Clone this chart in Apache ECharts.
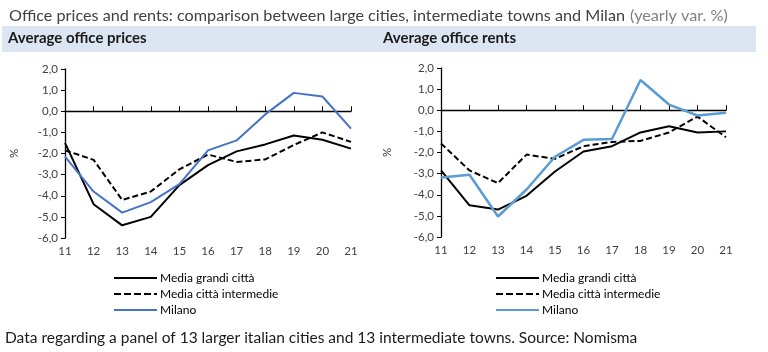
<!DOCTYPE html>
<html>
<head>
<meta charset="utf-8">
<script src="https://cdn.jsdelivr.net/npm/echarts@6/dist/echarts.min.js"></script>
<style>
  html, body { margin: 0; padding: 0; background: #fff; }
  #chart { width: 768px; height: 352px; }
</style>
</head>
<body>
<div id="chart"></div>
<script>
// anni (asse x)
const years = ['11', '12', '13', '14', '15', '16', '17', '18', '19', '20', '21']
const seriesNames = ['Media grandi città', 'Media città intermedie', 'Milano']

// prezzi uffici (var. % annua)
const pricesLarge = [-1.5, -4.4, -5.4, -5.0, -3.5, -2.55, -1.9, -1.57, -1.15, -1.35, -1.77]
const pricesInter = [-1.85, -2.3, -4.2, -3.8, -2.75, -2.05, -2.4, -2.28, -1.6, -1.0, -1.45]
const pricesMilano = [-2.15, -3.8, -4.8, -4.3, -3.45, -1.85, -1.38, -0.15, 0.87, 0.7, -0.82]

// canoni uffici (var. % annua)
const rentsLarge = [-2.85, -4.5, -4.7, -4.05, -2.9, -1.95, -1.7, -1.05, -0.76, -1.05, -1.0]
const rentsInter = [-1.57, -2.85, -3.45, -2.1, -2.3, -1.7, -1.5, -1.45, -1.05, -0.3, -1.28]
const rentsMilano = [-3.18, -3.05, -5.03, -3.75, -2.2, -1.4, -1.36, 1.43, 0.27, -0.25, -0.12]

const font = 'Lato, "Open Sans", sans-serif'
const textColor = '#404040'

// icone legenda: linea piena e tratteggiata
const solidIcon = 'path://M0,0H43V2H0Z'
const dashIcon = 'path://M0,0H7V2H0Z M10,0H17V2H10Z M20,0H27V2H20Z M30,0H37V2H30Z M40,0H43V2H40Z'

let myChart = echarts.init(document.getElementById('chart'), null, { renderer: 'canvas' })

function makeGrid(left, right, top, bottom) {
  return { left: left, right: right, top: top, bottom: bottom, containLabel: false }
}

// asse x con etichette in basso (senza linea)
function labelAxis(gridIndex) {
  return {
    type: 'category',
    gridIndex: gridIndex,
    data: years,
    boundaryGap: false,
    position: 'bottom',
    axisLine: { show: false, onZero: false },
    axisTick: { show: false },
    axisLabel: { color: textColor, fontSize: 11.5, fontFamily: font, margin: 7 },
    splitLine: { show: false }
  }
}

// asse x sullo zero (linea + tacche)
function zeroAxis(gridIndex) {
  return {
    type: 'category',
    gridIndex: gridIndex,
    data: years,
    boundaryGap: false,
    axisLine: { show: true, onZero: true, lineStyle: { color: '#000', width: 1.3 } },
    axisTick: { show: true, inside: false, length: 5, lineStyle: { color: '#000', width: 1 } },
    axisLabel: { show: false },
    splitLine: { show: false }
  }
}

function valueAxis(gridIndex, nameGap) {
  return {
    type: 'value',
    gridIndex: gridIndex,
    min: -6,
    max: 2,
    interval: 1,
    name: '%',
    nameLocation: 'middle',
    nameRotate: 90,
    nameGap: nameGap,
    nameTextStyle: { color: textColor, fontSize: 11.5, fontFamily: font },
    axisLine: { show: true, onZero: false, lineStyle: { color: '#000', width: 1.3 } },
    axisTick: { show: true, length: 4, lineStyle: { color: '#000' } },
    axisLabel: {
      color: textColor, fontSize: 11.5, fontFamily: font, margin: 7,
      formatter: v => v.toFixed(1).replace('.', ',')
    },
    splitLine: { show: false }
  }
}

function lineSeries(name, data, xIdx, yIdx, color, width, dashed) {
  return {
    name: name,
    type: 'line',
    xAxisIndex: xIdx,
    yAxisIndex: yIdx,
    data: data,
    symbol: 'none',
    showSymbol: false,
    silent: true,
    lineStyle: { color: color, width: width, type: dashed ? [6, 3] : 'solid' },
    itemStyle: { color: color }
  }
}

function legendBlock(left, milanoColor) {
  return {
    orient: 'vertical',
    left: left,
    top: 271,
    padding: 0,
    itemWidth: 43,
    itemHeight: 2.5,
    itemGap: 2,
    selectedMode: false,
    textStyle: { color: '#000', fontSize: 12, lineHeight: 14, fontFamily: font, padding: [0, 0, 0, -2] },
    data: [
      { name: seriesNames[0], icon: solidIcon, itemStyle: { color: '#000' } },
      { name: seriesNames[1], icon: dashIcon, itemStyle: { color: '#000' } },
      { name: seriesNames[2], icon: solidIcon, itemStyle: { color: milanoColor } }
    ]
  }
}

var option = {
  animation: false,
  backgroundColor: '#fff',
  title: {
    left: 4,
    top: 2,
    text: '{a|Office prices and rents: comparison between large cities, intermediate towns and Milan} {b|(yearly var. %)}',
    textStyle: {
      rich: {
        a: { color: '#404040', fontSize: 16.2, fontFamily: font, fontWeight: 'normal' },
        b: { color: '#808080', fontSize: 16.2, fontFamily: font, fontWeight: 'normal' }
      }
    }
  },
  graphic: [
    { type: 'rect', left: 2, top: 26, shape: { width: 754, height: 26 }, style: { fill: '#DCE6F2' }, z: -1 },
    { type: 'text', left: 8, top: 31, style: { text: 'Average office prices', fill: '#1a1a1a', font: 'bold 15px ' + font } },
    { type: 'text', left: 383, top: 31, style: { text: 'Average office rents', fill: '#1a1a1a', font: 'bold 15px ' + font } },
    { type: 'text', left: 5, top: 330, style: { text: 'Data regarding a panel of 13 larger italian cities and 13 intermediate towns. Source: Nomisma', fill: '#1a1a1a', font: '15.5px ' + font } }
  ],
  legend: [legendBlock(114, '#4472C4'), legendBlock(496, '#5B9BD5')],
  grid: [makeGrid(65, 417, 69, 114), makeGrid(441, 42, 68, 115)],
  xAxis: [labelAxis(0), zeroAxis(0), labelAxis(1), zeroAxis(1)],
  yAxis: [valueAxis(0, 45), valueAxis(1, 48)],
  series: [
    lineSeries(seriesNames[0], pricesLarge, 0, 0, '#000', 2, false),
    lineSeries(seriesNames[1], pricesInter, 0, 0, '#000', 2, true),
    lineSeries(seriesNames[2], pricesMilano, 0, 0, '#4472C4', 2, false),
    lineSeries(seriesNames[0], rentsLarge, 2, 1, '#000', 2, false),
    lineSeries(seriesNames[1], rentsInter, 2, 1, '#000', 2, true),
    lineSeries(seriesNames[2], rentsMilano, 2, 1, '#5B9BD5', 2.5, false)
  ]
}

myChart.setOption(option)
</script>
</body>
</html>
